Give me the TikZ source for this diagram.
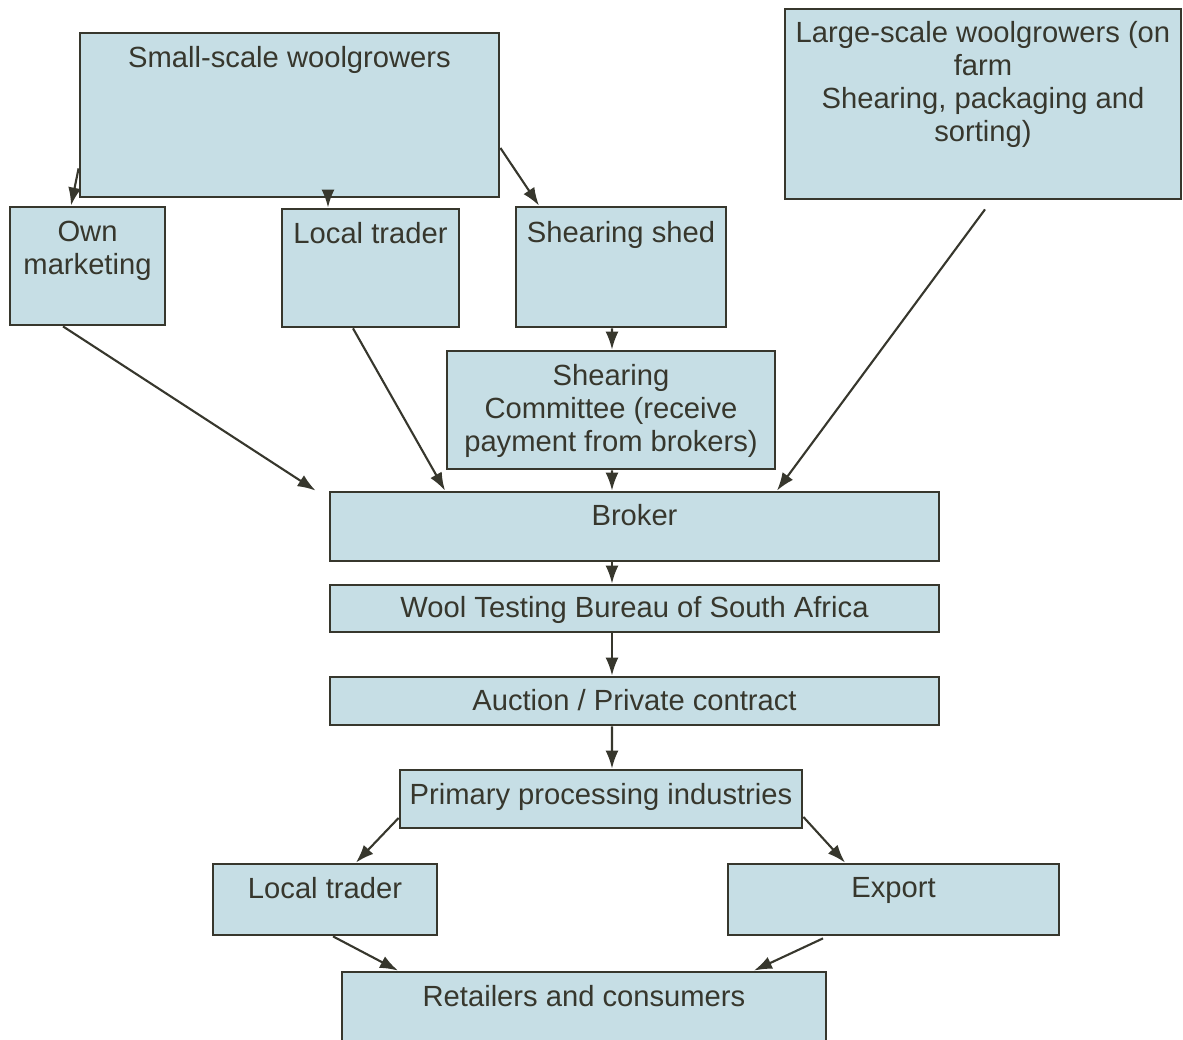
\documentclass[tikz,border=0pt]{standalone}
\usepackage{fontspec}
\setmainfont{Liberation Sans}
\usetikzlibrary{arrows.meta,positioning}
\definecolor{boxfill}{RGB}{198,222,229}
\definecolor{ink}{RGB}{55,55,45}

\begin{document}
\begin{tikzpicture}[>={Latex[length=1.8mm,width=1.3mm]},
    box/.style={draw=ink, line width=0.8pt, fill=boxfill, inner sep=0pt},
    txt/.style={text=ink, font=\fontsize{8.3}{9.4}\selectfont, align=center, inner sep=0pt},
    arr/.style={->, draw=ink, line width=0.6pt}]
\useasboundingbox (0,0) rectangle (11.83,10.40);

% === Growers ===
\node[box, minimum width=4.19cm, minimum height=1.64cm] (small) at (2.895,9.25) {};
\node[txt, below=1.4mm of small.north] (small-t) {Small-scale woolgrowers};
\node[box, minimum width=3.96cm, minimum height=1.90cm] (large) at (9.83,9.36) {};
\node[txt, below=1.3mm of large.north] (large-t) {Large-scale woolgrowers (on\\farm\\Shearing, packaging and\\sorting)};

% === Small-scale channels ===
\node[box, minimum width=1.55cm, minimum height=1.18cm] (own) at (0.875,7.74) {};
\node[txt, below=1.5mm of own.north] (own-t) {Own\\marketing};
\node[box, minimum width=1.77cm, minimum height=1.18cm] (trader) at (3.705,7.72) {};
\node[txt, below=1.4mm of trader.north] (trader-t) {Local trader};
\node[box, minimum width=2.10cm, minimum height=1.20cm] (shed) at (6.21,7.73) {};
\node[txt, below=1.5mm of shed.north] (shed-t) {Shearing shed};
\node[box, minimum width=3.28cm, minimum height=1.18cm] (comm) at (6.11,6.30) {};
\node[txt, below=1.4mm of comm.north] (comm-t) {Shearing\\Committee (receive\\payment from brokers)};

% === Selling chain ===
\node[box, minimum width=6.09cm, minimum height=0.69cm] (broker) at (6.345,5.135) {};
\node[txt, below=1.3mm of broker.north] (broker-t) {Broker};
\node[box, minimum width=6.09cm, minimum height=0.47cm] (testing) at (6.345,4.315) {};
\node[txt, below=1.2mm of testing.north] (testing-t) {Wool Testing Bureau of South Africa};
\node[box, minimum width=6.09cm, minimum height=0.48cm] (auction) at (6.345,3.39) {};
\node[txt, below=1.3mm of auction.north] (auction-t) {Auction / Private contract};
\node[box, minimum width=4.02cm, minimum height=0.58cm] (primary) at (6.01,2.41) {};
\node[txt, below=1.4mm of primary.north] (primary-t) {Primary processing industries};
\node[box, minimum width=2.24cm, minimum height=0.71cm] (trader2) at (3.25,1.405) {};
\node[txt, below=1.4mm of trader2.north] (trader2-t) {Local trader};
\node[box, minimum width=3.31cm, minimum height=0.71cm] (export) at (8.935,1.405) {};
\node[txt, below=1.4mm of export.north] (export-t) {Export};
\node[box, minimum width=4.84cm, minimum height=0.70cm] (retail) at (5.84,0.33) {};
\node[txt, below=1.4mm of retail.north] (retail-t) {Retailers and consumers};

% === Arrows ===
\draw[arr] ([yshift=3mm]small.south west) -- ([xshift=-1.65mm]own.north);
\draw[arr] ([xshift=3.85mm]small.south) -- ([xshift=-4.25mm]trader.north);
\draw[arr] ([yshift=-3.3mm]small.east) -- ([xshift=-8.2mm]shed.north);
\draw[arr] ([xshift=-2.45mm]own.south) -- ([xshift=-1.3mm]broker.north west);
\draw[arr] ([xshift=-1.75mm]trader.south) -- ([xshift=-18.95mm]broker.north);
\draw[arr] ([xshift=-0.9mm]shed.south) -- ([xshift=0.1mm]comm.north);
\draw[arr] ([xshift=0.1mm]comm.south) -- ([xshift=-2.25mm]broker.north);
\draw[arr] ([xshift=0.2mm,yshift=-0.9mm]large.south) -- ([xshift=14.25mm]broker.north);
\draw[arr] ([xshift=-2.25mm]broker.south) -- ([xshift=-2.25mm]testing.north);
\draw[arr] ([xshift=-2.25mm]testing.south) -- ([xshift=-2.25mm]auction.north);
\draw[arr] ([xshift=-2.25mm]auction.south) -- ([xshift=1.1mm]primary.north);
\draw[arr] ([yshift=-1.9mm]primary.west) -- ([xshift=3.1mm]trader2.north);
\draw[arr] ([yshift=-1.8mm]primary.east) -- ([xshift=-4.85mm]export.north);
\draw[arr] ([xshift=0.8mm]trader2.south) -- ([xshift=-18.6mm]retail.north);
\draw[arr] ([xshift=-7.05mm,yshift=-0.2mm]export.south) -- ([xshift=17mm]retail.north);
\end{tikzpicture}
\end{document}
